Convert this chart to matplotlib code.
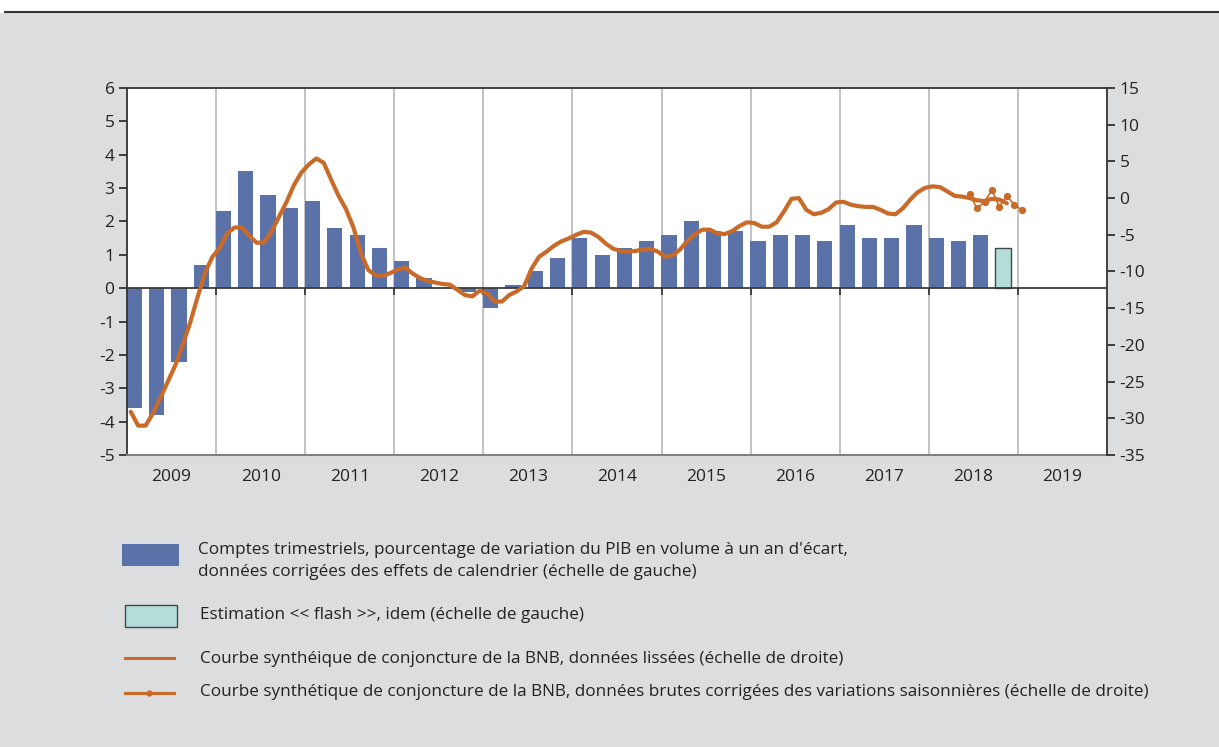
import numpy as np
import matplotlib.pyplot as plt
from matplotlib.patches import Rectangle
from matplotlib.lines import Line2D

plt.rcParams['font.family'] = ['Open Sans', 'DejaVu Sans']
plt.rcParams['axes.unicode_minus'] = False

# Quarterly GDP growth, 2009Q1 .. 2018Q4 (last one = flash estimate)
gdp_quarterly = [-3.6, -3.8, -2.2, 0.7,
                 2.3, 3.5, 2.8, 2.4,
                 2.6, 1.8, 1.6, 1.2,
                 0.8, 0.3, 0.0, -0.1,
                 -0.6, 0.1, 0.5, 0.9,
                 1.5, 1.0, 1.2, 1.4,
                 1.6, 2.0, 1.7, 1.7,
                 1.4, 1.6, 1.6, 1.4,
                 1.9, 1.5, 1.5, 1.9,
                 1.5, 1.4, 1.6]
gdp_flash = [1.2]

# BNB business barometer, smoothed, monthly from Jan 2009
bnb_smoothed = [-29.1, -31.0, -31.0, -29.3, -27.2, -25.0, -22.8, -20.0, -17.0, -13.5, -10.2, -8.0,
                -6.8, -4.8, -4.0, -4.0, -5.2, -6.1, -6.0, -4.5, -2.5, -0.5, 1.8, 3.5,
                4.6, 5.4, 4.8, 2.5, 0.3, -1.5, -4.0, -7.5, -9.8, -10.5, -10.6, -10.2,
                -9.7, -9.5, -10.3, -10.9, -11.3, -11.5, -11.7, -11.8, -12.5, -13.2, -13.4, -12.6,
                -13.0, -14.1, -14.1, -13.2, -12.7, -12.0, -9.6, -8.0, -7.3, -6.5, -5.9, -5.5,
                -5.0, -4.6, -4.7, -5.3, -6.2, -6.9, -7.2, -7.3, -7.2, -7.0, -6.9, -7.3,
                -8.0, -7.8, -7.0, -5.8, -4.9, -4.3, -4.3, -4.8, -4.9, -4.5, -3.8, -3.3,
                -3.4, -3.9, -3.9, -3.3, -1.8, -0.1, 0.0, -1.6, -2.2, -2.0, -1.5, -0.6,
                -0.5, -0.9, -1.1, -1.2, -1.2, -1.6, -2.1, -2.2, -1.4, -0.2, 0.8, 1.4,
                1.6, 1.5, 0.9, 0.3, 0.2, 0.0, -0.3, -0.4, -0.1, -0.2, -0.7]

# BNB business barometer, raw seasonally adjusted, Jun 2018 .. Jan 2019
bnb_raw_start = 113
bnb_raw = [0.5, -1.4, -0.5, 1.1, -1.2, 0.3, -0.9, -1.6]

years = list(range(2009, 2020))

blue = '#5b72a8'
teal = '#b4ddd8'
orange = '#c96a28'
bg = '#dcdddf'

fig = plt.figure(figsize=(12.19, 7.47), dpi=100)
fig.patch.set_facecolor('white')
fig.patches.append(Rectangle((0, 0), 1, 1 - 13 / 747, transform=fig.transFigure,
                             facecolor=bg, edgecolor='none', zorder=-10))
fig.add_artist(Line2D([5 / 1219, 1], [1 - 12 / 747] * 2, transform=fig.transFigure,
                      color='#333333', lw=1.5))

ax = fig.add_axes([127 / 1219, 1 - 455 / 747, 980 / 1219, 367 / 747])
ax.set_facecolor('white')

# bars: months since Jan 2009, centred on middle month of quarter
q_pos = np.arange(len(gdp_quarterly)) * 3 + 1
ax.bar(q_pos, gdp_quarterly, width=2.05, color=blue, zorder=2)
f_pos = np.arange(len(gdp_quarterly), len(gdp_quarterly) + len(gdp_flash)) * 3 + 1
ax.bar(f_pos, gdp_flash, width=2.05, color=teal, edgecolor='#3d4a4a', lw=1, zorder=2)

bounds = np.arange(len(years) + 1) * 12
ax.set_xlim(0, len(years) * 12)
ax.set_ylim(-5, 6)
ax.set_yticks(range(-5, 7))
for b in bounds[1:-1]:
    ax.axvline(b, color='#b8b8bc', lw=1.2, zorder=1)
ax.axhline(0, color='#3a3a3a', lw=1.3, zorder=3)
ax.vlines(bounds[1:-1], -0.2, 0, color='#3a3a3a', lw=1.3, zorder=3)

ax.set_xticks(bounds[:-1] + 6)
ax.set_xticklabels([str(y) for y in years])
ax.tick_params(axis='x', length=0, pad=10, labelsize=12.5, colors='#222222')
ax.tick_params(axis='y', direction='out', length=6, width=1.2, labelsize=12.5,
               colors='#222222', pad=3)

for side in ['left', 'top']:
    ax.spines[side].set_color('#333333')
    ax.spines[side].set_linewidth(1.3)
ax.spines['right'].set_visible(False)
ax.spines['bottom'].set_color('#808080')
ax.spines['bottom'].set_linewidth(1.5)

ax2 = ax.twinx()
m_pos = np.arange(len(bnb_smoothed)) + 0.5
ax2.plot(m_pos, bnb_smoothed, color=orange, lw=3, solid_capstyle='round', zorder=5)
r_pos = np.arange(bnb_raw_start, bnb_raw_start + len(bnb_raw)) + 0.5
ax2.plot(r_pos, bnb_raw, color=orange, lw=1.2, marker='o', ms=4.2, zorder=4)
ax2.set_ylim(-35, 15)
ax2.set_yticks(range(-35, 16, 5))
ax2.tick_params(axis='y', direction='out', length=6, width=1.2, labelsize=12.5,
                colors='#222222', pad=3)
ax2.spines['right'].set_color('#333333')
ax2.spines['right'].set_linewidth(1.3)
for side in ['left', 'top', 'bottom']:
    ax2.spines[side].set_visible(False)

# legend drawn by hand in figure coordinates
def fy(py):
    return 1 - py / 747

def fx(px):
    return px / 1219

fig.patches.append(Rectangle((fx(122), fy(566)), fx(57), 22 / 747, transform=fig.transFigure,
                             facecolor=blue, edgecolor='none'))
fig.patches.append(Rectangle((fx(125), fy(627)), fx(52), 22 / 747, transform=fig.transFigure,
                             facecolor=teal, edgecolor='#3d4a4a', lw=1))
fig.add_artist(Line2D([fx(125), fx(174)], [fy(658)] * 2, transform=fig.transFigure,
                      color=orange, lw=2.2))
fig.add_artist(Line2D([fx(125), fx(174)], [fy(693)] * 2, transform=fig.transFigure,
                      color=orange, lw=2.2))
fig.add_artist(Line2D([fx(149)], [fy(693)], transform=fig.transFigure,
                      color=orange, marker='o', ms=3.5))

tkw = dict(fontsize=12.3, color='#222222', va='center', ha='left')
fig.text(fx(198), fy(550), "Comptes trimestriels, pourcentage de variation du PIB en volume à un an d'écart,", **tkw)
fig.text(fx(198), fy(572), "données corrigées des effets de calendrier (échelle de gauche)", **tkw)
fig.text(fx(200), fy(615), "Estimation << flash >>, idem (échelle de gauche)", **tkw)
fig.text(fx(200), fy(659), "Courbe synthéique de conjoncture de la BNB, données lissées (échelle de droite)", **tkw)
fig.text(fx(200), fy(692), "Courbe synthétique de conjoncture de la BNB, données brutes corrigées des variations saisonnières (échelle de droite)", **tkw)

fig.savefig('out.png', dpi=100, facecolor=fig.get_facecolor())
